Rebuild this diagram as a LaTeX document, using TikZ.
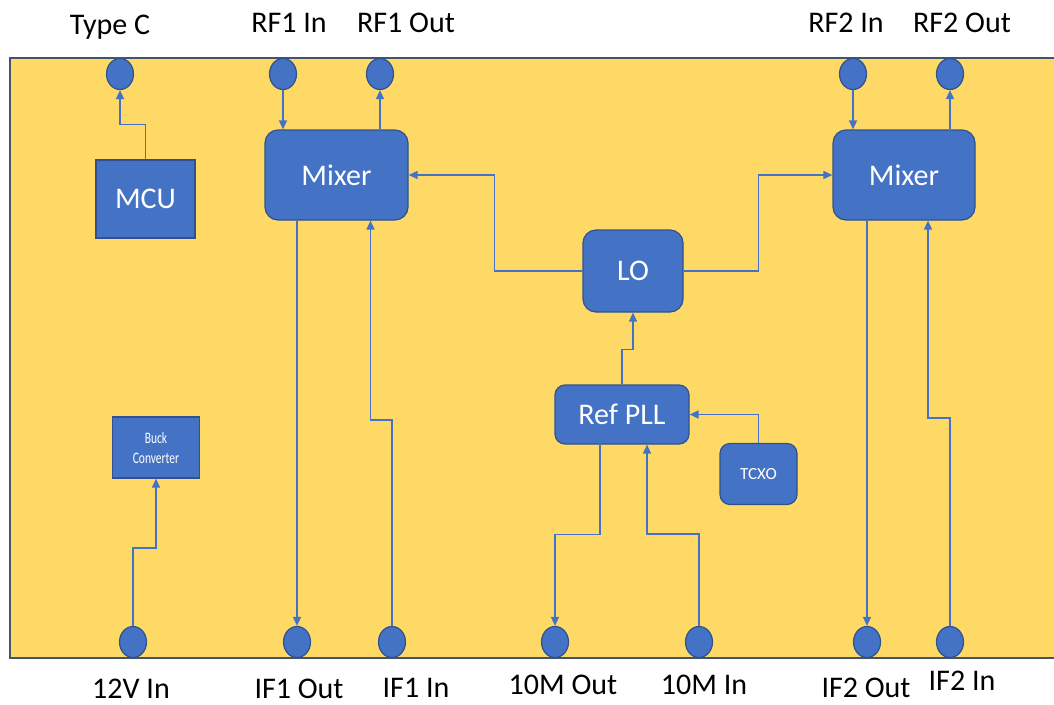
\documentclass[tikz,border=0pt]{standalone}
\usepackage{fontspec}
\setmainfont{Carlito}
\newfontfamily\narrowfont[FakeStretch=0.72]{Carlito}
\usetikzlibrary{shapes.geometric,arrows.meta}
\definecolor{boardyellow}{HTML}{FFD966}
\definecolor{boardedge}{HTML}{44546A}
\definecolor{blockblue}{HTML}{4472C4}
\definecolor{blockedge}{HTML}{2F528F}
\tikzset{
	port/.style={ellipse, draw=blockedge, fill=blockblue, line width=1.2pt, minimum width=27pt, minimum height=31pt, inner sep=0pt},
	block/.style={draw=blockedge, fill=blockblue, line width=1.2pt, text=white, font=\fontsize{30}{36}\selectfont, inner sep=0pt},
	rblock/.style={block, rounded corners=13pt},
	lbl/.style={font=\fontsize{30}{36}\selectfont, anchor=base, inner sep=0pt},
	conn/.style={draw=blockblue, line width=1.5pt, -{Triangle[length=9pt,width=8pt]}},
}
\begin{document}
\begin{tikzpicture}[x=1pt,y=-1pt]
		\useasboundingbox (0,0) rectangle (1054,704);
		% Board
		\fill[boardyellow] (10,58) rectangle (1054,658);
		\draw[boardedge, line width=2pt] (1054,58) -- (10,58) -- (10,658) -- (1054,658);
		
		% Top ports
		\node[port] (TypeC) at (120,74) {};
		\node[port] (RF1In) at (283,74) {};
		\node[port] (RF1Out) at (380,74) {};
		\node[port] (RF2In) at (853,74) {};
		\node[port] (RF2Out) at (950,74) {};
		\node[lbl] (TypeCLbl) at (110,34) {Type C};
		\node[lbl] (RF1InLbl) at (289,32) {RF1 In};
		\node[lbl] (RF1OutLbl) at (406,32) {RF1 Out};
		\node[lbl] (RF2InLbl) at (846,32) {RF2 In};
		\node[lbl] (RF2OutLbl) at (962,32) {RF2 Out};
		
		% Bottom ports
		\node[port] (VIn) at (133,642) {};
		\node[port] (IF1Out) at (297,642) {};
		\node[port] (IF1In) at (392,642) {};
		\node[port] (TenMOut) at (555,642) {};
		\node[port] (TenMIn) at (699,642) {};
		\node[port] (IF2Out) at (867,642) {};
		\node[port] (IF2In) at (950,642) {};
		\node[lbl] (VInLbl) at (131,698) {12V In};
		\node[lbl] (IF1OutLbl) at (299,698) {IF1 Out};
		\node[lbl] (IF1InLbl) at (416,697) {IF1 In};
		\node[lbl] (TenMOutLbl) at (563,694) {10M Out};
		\node[lbl] (TenMInLbl) at (704,694) {10M In};
		\node[lbl] (IF2OutLbl) at (866,697) {IF2 Out};
		\node[lbl] (IF2InLbl) at (962,690) {IF2 In};
		
		% Blocks
		\node[block, minimum width=99pt, minimum height=78pt] (MCU) at (145.5,199) {MCU};
		\node[block, minimum width=87pt, minimum height=61pt, align=center, font=\narrowfont\fontsize{16}{20}\selectfont] (Buck) at (156,447.5) {Buck\\Converter};
		\node[rblock, minimum width=143pt, minimum height=90pt] (MixerA) at (336.5,175) {Mixer};
		\node[rblock, minimum width=142pt, minimum height=90pt] (MixerB) at (904,175) {Mixer};
		\node[rblock, minimum width=100pt, minimum height=82pt] (LO) at (633,271) {LO};
		\node[rblock, rounded corners=10pt, minimum width=134pt, minimum height=59pt] (RefPLL) at (622,414.5) {Ref PLL};
		\node[rblock, rounded corners=10pt, minimum width=77pt, minimum height=61pt, font=\fontsize{17}{20}\selectfont] (TCXO) at (758.5,474) {TCXO};
		
		% MCU and power
		\draw[conn] (MCU.north) -- ++(0,-35) -| (TypeC.south);
		\draw[conn] (VIn.north) -- ++(0,-78) -| (Buck.south);
		
		% Mixer 1
		\draw[conn] (RF1In.south) -- (RF1In.south |- MixerA.north);
		\draw[conn] (MixerA.north -| RF1Out) -- (RF1Out.south);
		\draw[conn] (MixerA.south -| IF1Out) -- (IF1Out.north);
		\draw[conn] (IF1In.north) -- ++(0,-206) -| ([xshift=34pt]MixerA.south);
		
		% Mixer 2
		\draw[conn] (RF2In.south) -- (RF2In.south |- MixerB.north);
		\draw[conn] (MixerB.north -| RF2Out) -- (RF2Out.south);
		\draw[conn] (MixerB.south -| IF2Out) -- (IF2Out.north);
		\draw[conn] (IF2In.north) -- ++(0,-208) -| ([xshift=24pt]MixerB.south);
		
		% LO and reference
		\draw[conn] (LO.west) -- ++(-88,0) |- (MixerA.east);
		\draw[conn] (LO.east) -- ++(75,0) |- (MixerB.west);
		\draw[conn] (RefPLL.north) -- ++(0,-35) -| (LO.south);
		\draw[conn] (TCXO.north) |- (RefPLL.east);
		\draw[conn] ([xshift=-22pt]RefPLL.south) -- ++(0,90) -| (TenMOut.north);
		\draw[conn] (TenMIn.north) -- ++(0,-92) -| ([xshift=25pt]RefPLL.south);
		
	\end{tikzpicture}
\end{document}
